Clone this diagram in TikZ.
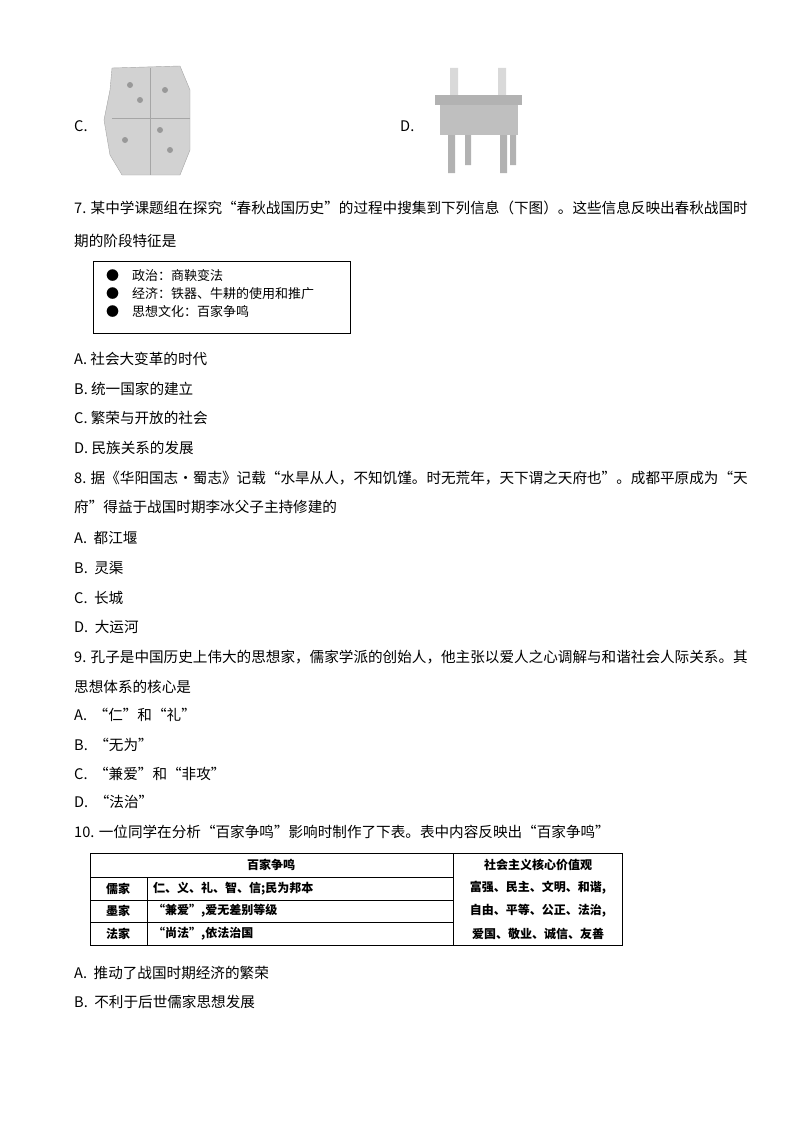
\documentclass[tikz,border=0pt]{standalone}
\usepackage{fontspec}
\setmainfont{Liberation Serif}
\newfontfamily\cjk{Noto Sans CJK SC}
\begin{document}
\begin{tikzpicture}[x=1pt,y=-1pt,
 txt/.style={anchor=west,inner sep=0pt,font=\cjk\fontsize{14.6}{16}\selectfont},
 tb/.style={anchor=center,inner sep=0pt,font=\cjk\bfseries\fontsize{12}{13}\selectfont},
 bx/.style={anchor=west,inner sep=0pt,font=\cjk\fontsize{13}{15}\selectfont}]
\useasboundingbox (0,0) rectangle (800,1132);
% images
\node[txt] (lc) at (74,126) {C.};
\fill[gray!35,draw=gray!70] (112,68)--(180,66)--(190,90)--(190,150)--(180,175)--(122,175)--(110,155)--(104,120)--(110,90)--cycle;
\draw[gray!70,thick] (112,118)--(190,118) (150,68)--(150,175);
\foreach \p in {(130,85),(165,90),(125,140),(170,150),(140,100),(160,130)} \fill[gray!80] \p circle (3);
\node[txt] (ld) at (400,126) {D.};
\fill[gray!30] (450,68) rectangle (458,95) (498,68) rectangle (506,95);
\fill[gray!60] (435,95) rectangle (522,105);
\fill[gray!50] (440,105) rectangle (518,135);
\fill[gray!60] (448,135) rectangle (455,173) (465,135) rectangle (471,165) (500,135) rectangle (507,173) (510,135) rectangle (516,165);
% Q7
\node[txt] (q7a) at (74,208) {7. 某中学课题组在探究“春秋战国历史”的过程中搜集到下列信息（下图）。这些信息反映出春秋战国时};
\node[txt] (q7b) at (74,241) {期的阶段特征是};
\draw (93,261) rectangle (350,333);
\node[bx] (b1) at (106,276) {●\quad 政治：商鞅变法};
\node[bx] (b2) at (106,294) {●\quad 经济：铁器、牛耕的使用和推广};
\node[bx] (b3) at (106,312) {●\quad 思想文化：百家争鸣};
\node[txt] at (74,359) {A. 社会大变革的时代};
\node[txt] at (74,389) {B. 统一国家的建立};
\node[txt] at (74,418) {C. 繁荣与开放的社会};
\node[txt] at (74,448) {D. 民族关系的发展};
% Q8
\node[txt] at (74,478) {8. 据《华阳国志·蜀志》记载“水旱从人，不知饥馑。时无荒年，天下谓之天府也”。成都平原成为“天};
\node[txt] at (74,507) {府”得益于战国时期李冰父子主持修建的};
\node[txt] at (74,538) {A.\ \ 都江堰};
\node[txt] at (74,568) {B.\ \ 灵渠};
\node[txt] at (74,598) {C.\ \ 长城};
\node[txt] at (74,627) {D.\ \ 大运河};
% Q9
\node[txt] at (74,657) {9. 孔子是中国历史上伟大的思想家，儒家学派的创始人，他主张以爱人之心调解与和谐社会人际关系。其};
\node[txt] at (74,687) {思想体系的核心是};
\node[txt] at (74,715) {A.\ \ “仁”和“礼”};
\node[txt] at (74,745) {B.\ \ “无为”};
\node[txt] at (74,774) {C.\ \ “兼爱”和“非攻”};
\node[txt] at (74,802) {D.\ \ “法治”};
% Q10
\node[txt] at (74,832) {10. 一位同学在分析“百家争鸣”影响时制作了下表。表中内容反映出“百家争鸣”};
\draw[line width=1pt] (90,853) rectangle (622,945);
\draw (90,877)--(453,877) (90,900)--(453,900) (90,922)--(453,922) (147,877)--(147,945) (453,853)--(453,945);
\node[tb] at (271,865) {百家争鸣};
\node[tb] at (538,865) {社会主义核心价值观};
\node[tb] at (118,889) {儒家};
\node[tb] at (118,911) {墨家};
\node[tb] at (118,934) {法家};
\node[tb,anchor=west] at (153,889) {仁、义、礼、智、信;民为邦本};
\node[tb,anchor=west] at (153,911) {“兼爱”,爱无差别等级};
\node[tb,anchor=west] at (153,934) {“尚法”,依法治国};
\node[tb] at (538,888) {富强、民主、文明、和谐,};
\node[tb] at (538,911) {自由、平等、公正、法治,};
\node[tb] at (538,934) {爱国、敬业、诚信、友善};
\node[txt] at (74,973) {A.\ \ 推动了战国时期经济的繁荣};
\node[txt] at (74,1002) {B.\ \ 不利于后世儒家思想发展};
\end{tikzpicture}
\end{document}
